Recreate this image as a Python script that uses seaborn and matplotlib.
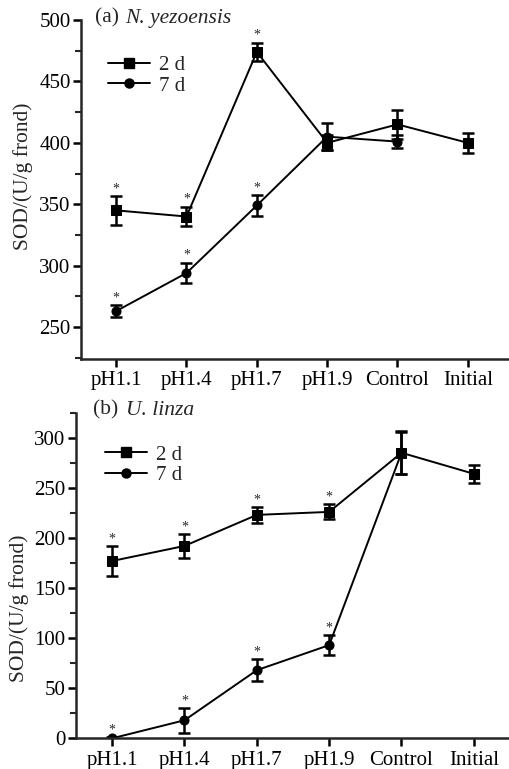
import matplotlib
matplotlib.use("Agg")
import matplotlib.pyplot as plt
from matplotlib.lines import Line2D
from matplotlib.ticker import MultipleLocator
import seaborn as sns
import pandas as pd

categories = ["pH1.1", "pH1.4", "pH1.7", "pH1.9", "Control", "Initial"]

# (a) N. yezoensis
a_2d = [345, 340, 474, 400, 415, 400]
a_2d_err = [11.5, 8, 7.5, 6, 11.5, 8]
a_7d = [263, 294, 349, 405, 401]
a_7d_err = [5, 8.5, 8.5, 11, 5]
a_stars = [0, 1, 2]

# (b) U. linza
b_2d = [177, 192, 223, 226, 285, 264]
b_2d_err = [14.5, 12, 8, 7.5, 21.5, 9]
b_7d = [0, 18, 68, 93, 285]
b_7d_err = [1, 12.5, 11, 10, 21]
b_stars = [0, 1, 2, 3]

sns.set_style("ticks")
plt.rcParams["font.family"] = ["Liberation Serif", "DejaVu Serif"]
plt.rcParams["axes.linewidth"] = 1.8


def long_table(v2, v7):
    rows = []
    for i, v in enumerate(v2):
        rows.append({"x": i, "val": v, "series": "2 d"})
    for i, v in enumerate(v7):
        rows.append({"x": i, "val": v, "series": "7 d"})
    return pd.DataFrame(rows)


def panel(ax, v2, e2, v7, e7, stars, ylim, major, leg_anchor):
    df = long_table(v2, v7)
    sns.lineplot(data=df, x="x", y="val", hue="series", style="series",
                 markers={"2 d": "s", "7 d": "o"}, dashes=False,
                 palette=["black", "black"], linewidth=1.4,
                 markersize=6.5, markeredgecolor="black", legend=False, ax=ax)
    ax.errorbar(range(len(v2)), v2, yerr=e2, fmt="none", ecolor="black",
                elinewidth=1.8, capsize=4, capthick=1.8)
    ax.errorbar(range(len(v7)), v7, yerr=e7, fmt="none", ecolor="black",
                elinewidth=1.8, capsize=4, capthick=1.8)
    for i in stars:
        for v, e in ((v2, e2), (v7, e7)):
            ax.annotate("*", (i, v[i] + e[i]), xytext=(0, 0.5),
                        textcoords="offset points", ha="center", va="bottom",
                        fontsize=10)
    ax.set_ylim(*ylim)
    ax.yaxis.set_major_locator(MultipleLocator(major))
    ax.yaxis.set_minor_locator(MultipleLocator(major / 2))
    ax.set_xticks(range(len(categories)))
    ax.set_xticklabels(categories)
    ax.set_xlabel("")
    ax.set_ylabel("SOD/(U/g frond)", fontsize=15.5)
    ax.tick_params(which="major", direction="out", length=6, width=1.8,
                   labelsize=15, colors="black", pad=1.5)
    ax.tick_params(axis="x", which="major", pad=3)
    ax.tick_params(which="minor", direction="out", length=4, width=1.5)
    ax.tick_params(axis="x", which="minor", length=0)
    sns.despine(ax=ax)
    handles = [
        Line2D([], [], color="black", marker="s", markersize=6.5, lw=1.4),
        Line2D([], [], color="black", marker="o", markersize=6.5, lw=1.4),
    ]
    ax.legend(handles, ["2 d", "7 d"], frameon=False, fontsize=15,
              handlelength=2.0, handletextpad=0.45, labelspacing=0.05,
              loc="upper left", bbox_to_anchor=leg_anchor)


fig = plt.figure(figsize=(5.1, 7.69), dpi=100)
ax1 = fig.add_axes([81 / 510, 1 - 359 / 769, 1 - 81 / 510, 339 / 769])
ax2 = fig.add_axes([76 / 510, 1 - 738.3 / 769, 1 - 76 / 510, 325.6 / 769])

panel(ax1, a_2d, a_2d_err, a_7d, a_7d_err, a_stars, (224, 500), 50,
      (0.019, 0.951))
ax1.set_xlim(-0.5, 5.6)
ax1.yaxis.set_label_coords(-0.112, 0.54)

panel(ax2, b_2d, b_2d_err, b_7d, b_7d_err, b_stars, (0, 325), 50,
      (0.024, 0.958))
ax2.set_xlim(-0.5, 5.5)
ax2.yaxis.set_label_coords(-0.108, 0.40)

fig.text(95 / 510, 1 - 18 / 769, "(a)", fontsize=15.5, va="center")
fig.text(125 / 510, 1 - 18 / 769, "N. yezoensis", fontsize=15.5,
         style="italic", va="center")
fig.text(93 / 510, 1 - 410 / 769, "(b)", fontsize=15.5, va="center")
fig.text(126 / 510, 1 - 410 / 769, "U. linza", fontsize=15.5,
         style="italic", va="center")

fig.savefig("out.png", dpi=100)
